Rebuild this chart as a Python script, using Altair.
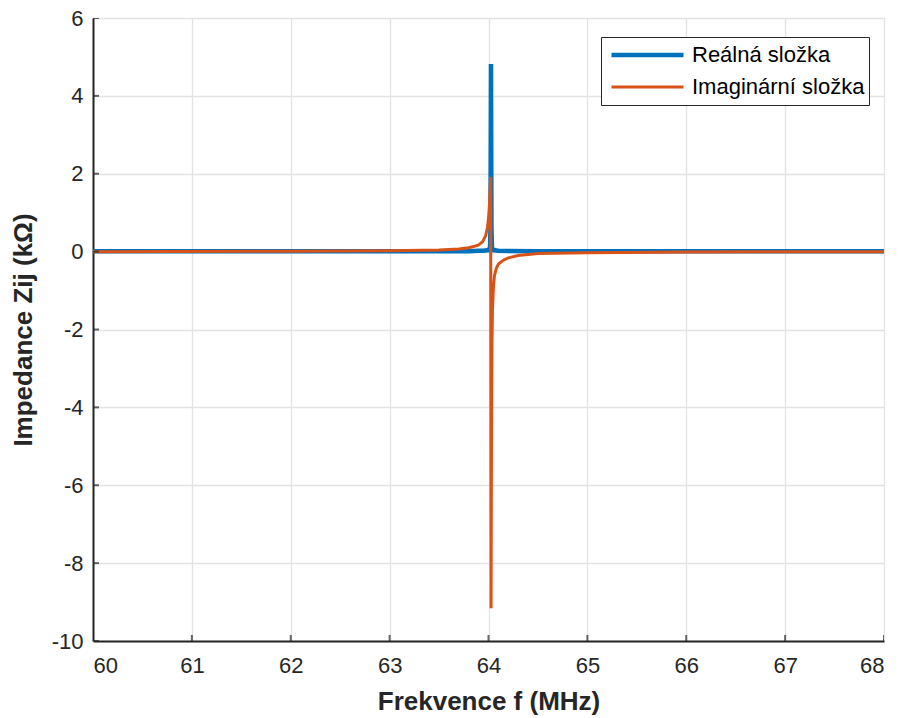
import altair as alt
import pandas as pd

# Real part (kΩ) vs frequency (MHz)
freq_re = [60.0, 62.0, 63.0, 63.5, 63.8, 63.9, 63.95, 64.0, 64.015, 64.02, 64.025, 64.03, 64.035, 64.05, 64.1, 64.5, 65.0, 66.0, 68.0]
val_re = [0.01, 0.01, 0.01, 0.01, 0.01, 0.02, 0.02, 0.04, 0.1, 0.6, 4.82, 0.6, 0.1, 0.04, 0.02, 0.01, 0.01, 0.01, 0.01]

# Imaginary part (kΩ) vs frequency (MHz)
freq_im = [60.0, 62.0, 63.0, 63.5, 63.7, 63.8, 63.85, 63.9, 63.94, 63.97, 63.99, 64.0, 64.01, 64.017, 64.022, 64.026, 64.03, 64.035, 64.04, 64.05, 64.06, 64.08, 64.1, 64.15, 64.2, 64.3, 64.5, 65.0, 66.0, 68.0]
val_im = [0.0, 0.01, 0.02, 0.04, 0.07, 0.1, 0.13, 0.17, 0.25, 0.4, 0.62, 0.85, 1.2, 1.6, 1.92, -9.16, -5.0, -2.4, -1.5, -0.9, -0.62, -0.42, -0.32, -0.22, -0.16, -0.1, -0.05, -0.03, -0.01, 0.0]

series_names = ["Reálná složka", "Imaginární složka"]
series_colors = ["#0072BD", "#D95319"]
series_widths = [4.5, 3.0]

x_ticks = [60, 61, 62, 63, 64, 65, 66, 67, 68]
y_ticks = [-10, -8, -6, -4, -2, 0, 2, 4, 6]

rows = []
for i, (f, v) in enumerate(zip(freq_re, val_re)):
    rows.append({"f": f, "z": v, "series": series_names[0], "o": i})
for i, (f, v) in enumerate(zip(freq_im, val_im)):
    rows.append({"f": f, "z": v, "series": series_names[1], "o": i})
df = pd.DataFrame(rows)

xt = pd.DataFrame({"f": x_ticks, "z": [y_ticks[0]] * len(x_ticks)})
yt = pd.DataFrame({"f": [x_ticks[0]] * len(y_ticks), "z": y_ticks})

font = "Liberation Sans"
xscale = alt.Scale(domain=[60, 68], nice=False, zero=False)
yscale = alt.Scale(domain=[-10, 6], nice=False, zero=False)

leg = dict(title=None, orient="none", legendX=508, legendY=19,
           symbolType="stroke", symbolSize=5184, symbolOffset=4,
           labelFontSize=22, labelFont=font, labelColor="#000000", labelLimit=400,
           strokeColor="#262626", fillColor="white", padding=4,
           clipHeight=28, rowPadding=4, labelOffset=6)

lines = alt.Chart(df).mark_line(clip=True).encode(
    x=alt.X("f:Q", scale=xscale,
            axis=alt.Axis(values=x_ticks, title="Frekvence f (MHz)", labelExpr="'' + datum.value",
                          titleY=68, titleBaseline="alphabetic")),
    y=alt.Y("z:Q", scale=yscale,
            axis=alt.Axis(values=y_ticks, title="Impedance Zij (kΩ)", labelExpr="'' + datum.value",
                          titleX=-70, titleY=311.5, titleBaseline="middle", titleAlign="center", titleAngle=270)),
    color=alt.Color("series:N", scale=alt.Scale(domain=series_names, range=series_colors),
                    legend=alt.Legend(**leg)),
    strokeWidth=alt.StrokeWidth("series:N", scale=alt.Scale(domain=series_names, range=series_widths),
                                legend=alt.Legend(**leg)),
    order="o:Q",
)

xticks_layer = alt.Chart(xt).mark_tick(clip=True, size=12, thickness=2, color="#262626", orient="vertical").encode(
    x=alt.X("f:Q", scale=xscale), y=alt.Y("z:Q", scale=yscale))
yticks_layer = alt.Chart(yt).mark_tick(clip=True, size=12, thickness=2, color="#262626", orient="horizontal").encode(
    x=alt.X("f:Q", scale=xscale), y=alt.Y("z:Q", scale=yscale))

chart = alt.layer(lines, xticks_layer, yticks_layer).properties(
    width=791, height=623,
    autosize=alt.AutoSizeParams(type="none"),
    padding={"left": 93, "top": 18, "right": 16, "bottom": 77},
).configure_view(stroke=None).configure_axis(
    labelFont=font, titleFont=font, labelFontSize=22, titleFontSize=26,
    titleFontWeight="bold", labelColor="#262626", titleColor="#262626",
    domainColor="#262626", domainWidth=2, ticks=False,
    gridColor="#e3e3e3", gridWidth=1.3,
).configure_axisX(labelPadding=14).configure_axisY(labelPadding=10)

chart.save("out.html", embed_options={"renderer": "svg", "actions": False})
